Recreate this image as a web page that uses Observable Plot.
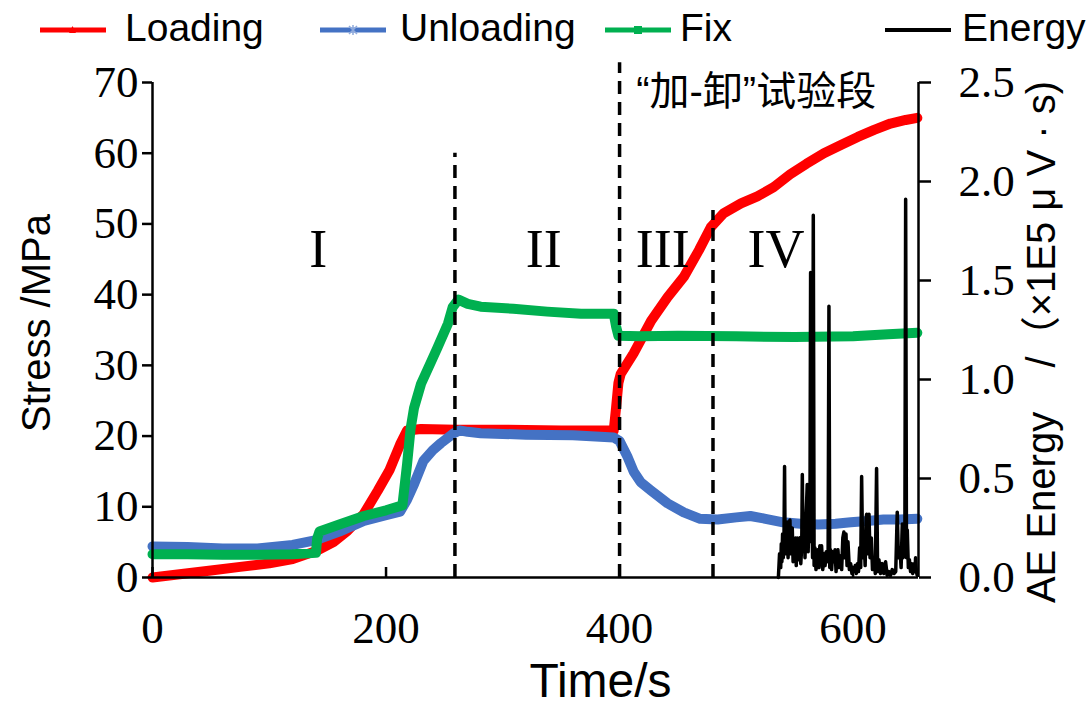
<!DOCTYPE html>
<html><head><meta charset="utf-8">
<script src="https://cdn.jsdelivr.net/npm/d3@7"></script>
<script src="https://cdn.jsdelivr.net/npm/@observablehq/plot@0.6"></script>
<style>
body{margin:0;background:#fff;width:1092px;height:707px;overflow:hidden;font-family:"Liberation Sans",Arial,sans-serif;}
#legend{position:relative;height:58px;width:1092px;}
#legend .sw{position:absolute;top:20px;}
#legend .lb{position:absolute;top:8px;font-size:39px;line-height:39px;color:#000;white-space:nowrap;}
#chart svg{display:block;}
</style></head>
<body>
<div id="legend"></div>
<div id="chart"></div>
<script>
// ---- data ----
const seriesNames = ["Loading", "Unloading", "Fix", "Energy"];
const seriesColors = ["#FF0000", "#4472C4", "#00B050", "#000000"];

const loadingTime   = [0,25,50,75,100,120,141,155,167,181,193,203,212,218,230,260,300,350,395,397,399,401,412,427,441,455,468,478,489,504,518,532,546,560,575,590,604,618,632,645,655];
const loadingStress = [0,0.5,1.0,1.5,2.0,2.6,3.8,5.0,6.6,9.0,12.3,15.2,18.8,20.8,21.0,20.9,20.9,20.8,20.8,24.0,27.5,28.8,31.7,36.3,39.6,42.5,46.3,49.5,51.5,52.9,53.9,55.2,57.0,58.5,60.0,61.2,62.3,63.3,64.2,64.7,65.0];

const unloadingTime   = [0,30,60,90,120,140,160,181,200,212,218,224,232,240,247,258,263,270,281,320,360,395,400,407,412,418,427,441,455,469,484,500,512,525,540,555,570,585,598,612,626,640,655];
const unloadingStress = [4.4,4.3,4.1,4.1,4.6,5.3,6.5,8.0,8.8,9.3,11.0,13.2,16.5,18.0,19.0,20.4,20.8,20.6,20.4,20.2,20.1,19.8,19.3,17.0,15.0,13.5,12.3,10.5,9.2,8.3,8.2,8.5,8.7,8.3,7.8,7.6,7.5,7.6,7.8,8.0,8.2,8.2,8.3];

const fixTime   = [0,30,60,90,120,140,141,143,160,181,200,214,218,221,224,230,238,244,253,257,262,270,281,309,338,367,395,397,399,418,450,500,550,600,630,655];
const fixStress = [3.3,3.3,3.2,3.2,3.3,3.5,5.5,6.5,7.5,8.7,9.5,10.2,16.0,21.0,24.0,27.4,30.3,32.5,35.9,38.2,39.3,38.7,38.3,38.0,37.6,37.3,37.3,35.5,34.2,34.1,34.2,34.1,34.0,34.1,34.4,34.6];

const energyTime  = [536,537,538,538.5,539,539.6,540.2,540.8,541.3,541.8,542.2,542.8,543.6,544.3,545,545.9,546.5,547.2,547.9,548.6,549.2,549.9,550.6,551.3,552.2,553,553.8,554.5,555.2,556,556.5,557.2,557.9,558.8,559.7,560.7,561.5,562.2,563,563.6,564.2,564.7,565.3,565.9,566.6,567.3,568.2,569,569.9,570.8,571.5,572.2,573,574,575,576,577,577.9,578.6,579.3,580,580.7,581.6,582.5,583.6,584.5,585.4,586.2,587,588,589.3,590.2,591.2,592.1,593,593.9,594.8,595.6,596.8,597.9,599,600,600.7,601.8,602.7,603.6,604.6,605.6,606.5,607.3,608.2,609.3,610.3,611.1,611.6,612.4,613.2,613.6,614.5,615.6,616.6,617.9,619,620.1,621,622.1,623.5,625,626.3,627.8,629.2,630.7,632,633.5,635,636.5,637.8,638.8,640.1,641.1,642.1,642.8,643.5,644.3,645,645.7,646.4,647.3,648.2,649.2,650.2,651.1,652.1,653,653.5,654.2,654.9];
const energyValue = [0.00,0.12,0.05,0.17,0.08,0.22,0.10,0.19,0.56,0.12,0.27,0.15,0.28,0.10,0.25,0.29,0.12,0.24,0.25,0.08,0.19,0.12,0.20,0.06,0.20,0.09,0.19,0.20,0.07,0.16,0.52,0.14,0.32,0.10,0.30,0.47,0.13,0.32,0.20,1.54,0.18,0.32,0.10,1.83,0.06,0.15,0.04,0.12,0.14,0.05,0.16,0.10,0.16,0.04,0.12,0.06,0.13,0.08,0.12,1.37,0.05,0.14,0.04,0.13,0.08,0.14,0.03,0.12,0.14,0.05,0.11,0.04,0.20,0.23,0.10,0.22,0.06,0.18,0.04,0.07,0.02,0.05,0.03,0.06,0.02,0.07,0.03,0.15,0.05,0.51,0.10,0.22,0.06,0.30,0.32,0.12,0.28,0.32,0.10,0.20,0.04,0.09,0.02,0.55,0.03,0.09,0.02,0.07,0.02,0.08,0.01,0.03,0.01,0.04,0.02,0.03,0.33,0.10,0.15,0.05,0.27,0.10,0.25,0.12,1.91,0.10,0.24,0.05,0.09,0.03,0.07,0.02,0.07,0.03,0.10,0.03,0.01];

const stageLabels = ["I", "II", "III", "IV"];
const stageTime   = [142, 335, 437, 534];
const stageStress = 46.3;

const noteText   = ["\u201C加-卸\u201D试验段"];
const noteTime   = [517];
const noteStress = [68.6];

const boundaryTime = [259, 400, 480];
const boundaryTop  = [60, 72.8, 51.9];

const timeTicks   = [0, 200, 400, 600];
const stressTicks = [0, 10, 20, 30, 40, 50, 60, 70];
const energyTicks = [0, 0.5, 1.0, 1.5, 2.0, 2.5];

const xLabel = "Time/s";
const yLabel = "Stress /MPa";
const y2Label = "AE Energy\u00A0\u00A0\u00A0\u00A0/（×1E5 μ V · s)";

const xMax = 656, yMax = 70, eMax = 2.5;
const k = yMax / eMax; // energy -> stress scale factor (dual axis)

// ---- tables ----
const zipRows = (ts, vs) => ts.map((t, i) => ({t, v: vs[i]}));
const loading = zipRows(loadingTime, loadingStress);
const unloading = zipRows(unloadingTime, unloadingStress);
const fix = zipRows(fixTime, fixStress);
const energy = energyTime.map((t, i) => ({t, v: energyValue[i] * k}));
const stages = stageLabels.map((s, i) => ({s, t: stageTime[i], v: stageStress}));
const notes = noteText.map((s, i) => ({s, t: noteTime[i], v: noteStress[i]}));
const bounds = boundaryTime.map((t, i) => ({t, top: boundaryTop[i]}));

// ---- legend ----
const legendSw = [40, 320, 605, 885];
const legendLb = [125, 400, 680, 962];
const markerSvg = [
  '<path d="M29,13 L32.5,6 L36,13 Z" fill="#FF0000"/>',
  '<path d="M29,6 L37,14 M37,6 L29,14 M33,5 L33,15" stroke="#8faadc" stroke-width="1.5"/>',
  '<rect x="29" y="6" width="8" height="8" fill="#00B050"/>',
  ''
];
const leg = document.getElementById("legend");
seriesNames.forEach((n, i) => {
  const sw = document.createElement("div");
  sw.className = "sw";
  sw.style.left = legendSw[i] + "px";
  sw.innerHTML = `<svg width="66" height="20"><line x1="0" y1="10" x2="66" y2="10" stroke="${seriesColors[i]}" stroke-width="${i===3?4:5}"/>${markerSvg[i]}</svg>`;
  leg.appendChild(sw);
  const lb = document.createElement("div");
  lb.className = "lb";
  lb.style.left = legendLb[i] + "px";
  lb.textContent = n;
  leg.appendChild(lb);
});

// ---- chart ----
const serif = "'Liberation Serif','Times New Roman',serif";
const sans = "'Liberation Sans',Arial,sans-serif";
const mixed = "'Liberation Sans','Noto Sans CJK SC',sans-serif";
const chart = Plot.plot({
  width: 1092,
  height: 649,
  marginTop: 24,
  marginBottom: 130,
  marginLeft: 152,
  marginRight: 174,
  x: {domain: [0, xMax]},
  y: {domain: [0, yMax]},
  style: {fontFamily: serif, background: "white", color: "black"},
  marks: [
    Plot.line(loading, {x: "t", y: "v", stroke: seriesColors[0], strokeWidth: 10}),
    Plot.line(unloading, {x: "t", y: "v", stroke: seriesColors[1], strokeWidth: 10}),
    Plot.line(fix, {x: "t", y: "v", stroke: seriesColors[2], strokeWidth: 10}),
    Plot.line(energy, {x: "t", y: "v", stroke: seriesColors[3], strokeWidth: 3.5}),
    Plot.ruleX(bounds, {x: "t", y1: 0, y2: "top", stroke: "black", strokeWidth: 3.5, strokeDasharray: "13,8"}),
    Plot.ruleY([0], {stroke: "black", strokeWidth: 2.5}),
    Plot.ruleX([0, xMax], {y1: 0, y2: yMax, stroke: "black", strokeWidth: 2.5}),
    Plot.axisY({anchor: "left", ticks: stressTicks, tickSize: 10, tickPadding: 4, fontSize: 45, strokeWidth: 2.5, label: null}),
    Plot.axisY({anchor: "right", ticks: energyTicks.map(e => e * k), tickFormat: d => (d / k).toFixed(1), tickSize: 12, tickPadding: 28, fontSize: 45, strokeWidth: 2.5, label: null}),
    Plot.axisX({ticks: timeTicks, tickSize: 0, tickPadding: 34, fontSize: 45, label: null}),
    Plot.axisX({ticks: timeTicks, tickSize: 10, dy: -10, fill: "none", strokeWidth: 2.5, label: null}),
    Plot.text(stages, {x: "t", y: "v", text: "s", fontSize: 54, fontFamily: serif}),
    Plot.text(notes, {x: "t", y: "v", text: "s", fontSize: 40, fontFamily: mixed}),
    Plot.text([yLabel], {text: d => d, frameAnchor: "left", textAnchor: "middle", lineAnchor: "middle", rotate: -90, dx: -115, dy: -7, fontSize: 40, fontFamily: sans}),
    Plot.text([y2Label], {text: d => d, frameAnchor: "right", textAnchor: "middle", lineAnchor: "middle", rotate: -90, dx: 124, dy: 12, fontSize: 40, fontFamily: mixed}),
    Plot.text([xLabel], {text: d => d, frameAnchor: "bottom", textAnchor: "middle", lineAnchor: "middle", dx: 65, dy: 104, fontSize: 48, fontFamily: sans})
  ]
});
document.getElementById("chart").appendChild(chart);
</script>
</body></html>
